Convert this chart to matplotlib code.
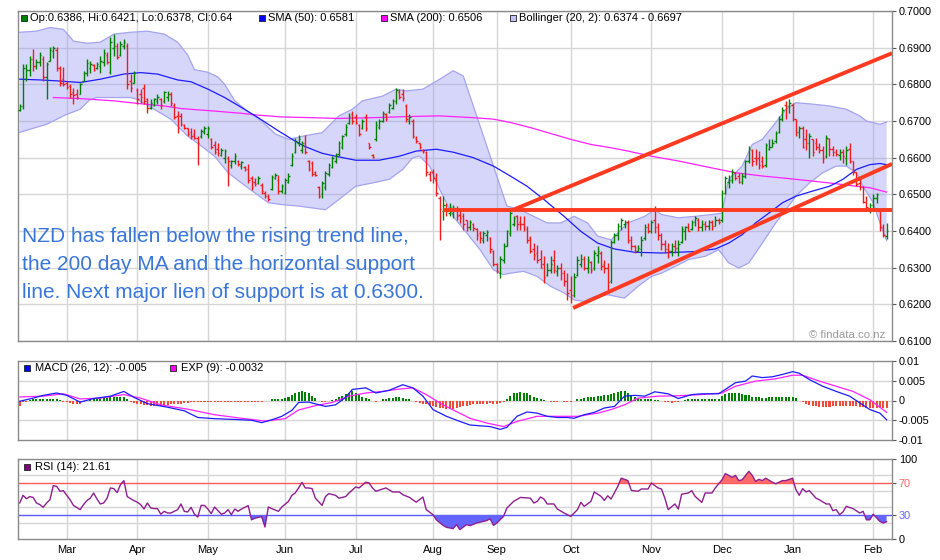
import numpy as np
import matplotlib
matplotlib.use("Agg")
import matplotlib.pyplot as plt
from matplotlib.collections import LineCollection
from matplotlib.patches import Rectangle

plt.rcParams["font.family"] = ["Liberation Sans", "DejaVu Sans"]

# ---- daily NZD/USD bars (prices in pips, 1 pip = 0.0001) ----
opens = [
    6730, 6742, 6815, 6840, 6868, 6850, 6862, 6870, 6820, 6864,
    6890, 6895, 6845, 6815, 6805, 6795, 6780, 6775, 6775, 6810,
    6830, 6845, 6852, 6845, 6850, 6860, 6880, 6835, 6900, 6905,
    6880, 6905, 6905, 6810, 6805, 6785, 6775, 6790, 6760, 6735,
    6745, 6755, 6760, 6755, 6765, 6775, 6745, 6715, 6715, 6690,
    6680, 6670, 6665, 6655, 6660, 6670, 6665, 6650, 6635, 6625,
    6608, 6600, 6600, 6580, 6590, 6592, 6578, 6575, 6570, 6545,
    6535, 6530, 6525, 6505, 6495, 6515, 6545, 6540, 6510, 6505,
    6535, 6580, 6615, 6640, 6620, 6640, 6590, 6585, 6560, 6520,
    6500, 6520, 6555, 6575, 6590, 6610, 6630, 6665, 6695, 6720,
    6710, 6690, 6680, 6710, 6640, 6608, 6650, 6685, 6700, 6720,
    6725, 6735, 6755, 6780, 6775, 6740, 6700, 6700, 6655, 6640,
    6622, 6615, 6555, 6560, 6540, 6490, 6455, 6470, 6450, 6450,
    6460, 6445, 6440, 6430, 6410, 6420, 6405, 6395, 6375, 6390,
    6380, 6345, 6310, 6285, 6320, 6360, 6395, 6420, 6440, 6425,
    6420, 6405, 6380, 6350, 6340, 6325, 6310, 6280, 6295, 6320,
    6290, 6300, 6285, 6265, 6240, 6225, 6280, 6310, 6325, 6300,
    6315, 6300, 6335, 6340, 6310, 6300, 6265, 6370, 6390, 6415,
    6420, 6425, 6375, 6360, 6345, 6350, 6380, 6410, 6400, 6430,
    6410, 6390, 6365, 6350, 6345, 6360, 6355, 6370, 6400, 6410,
    6405, 6425, 6430, 6410, 6420, 6415, 6425, 6415, 6430, 6430,
    6505, 6535, 6540, 6558, 6550, 6535, 6550, 6590, 6620, 6600,
    6600, 6590, 6580, 6625, 6630, 6645, 6670, 6705, 6745, 6740,
    6745, 6705, 6670, 6680, 6650, 6640, 6650, 6640, 6630, 6620,
    6605, 6650, 6625, 6615, 6608, 6615, 6600, 6625, 6590, 6560,
    6530, 6520, 6480, 6460, 6470, 6490, 6455, 6410, 6386,
]
highs = [
    6746, 6855, 6855, 6878, 6896, 6869, 6887, 6878, 6860, 6901,
    6905, 6901, 6850, 6846, 6809, 6800, 6791, 6787, 6805, 6837,
    6869, 6864, 6855, 6860, 6878, 6896, 6887, 6928, 6937, 6914,
    6919, 6923, 6914, 6828, 6837, 6791, 6787, 6800, 6764, 6759,
    6764, 6773, 6764, 6782, 6782, 6778, 6750, 6728, 6723, 6691,
    6682, 6682, 6677, 6659, 6677, 6686, 6686, 6654, 6645, 6641,
    6627, 6623, 6604, 6595, 6613, 6595, 6590, 6577, 6582, 6550,
    6545, 6550, 6531, 6509, 6500, 6554, 6559, 6554, 6527, 6545,
    6559, 6613, 6654, 6663, 6645, 6663, 6595, 6590, 6563, 6522,
    6536, 6563, 6586, 6604, 6613, 6645, 6663, 6691, 6723, 6728,
    6718, 6691, 6705, 6718, 6641, 6609, 6700, 6705, 6728, 6723,
    6750, 6759, 6791, 6787, 6787, 6746, 6718, 6705, 6659, 6641,
    6623, 6618, 6563, 6568, 6559, 6495, 6495, 6477, 6477, 6472,
    6468, 6458, 6449, 6431, 6431, 6422, 6408, 6400, 6399, 6404,
    6385, 6349, 6313, 6331, 6367, 6404, 6458, 6440, 6445, 6440,
    6440, 6413, 6386, 6367, 6363, 6349, 6331, 6313, 6331, 6349,
    6308, 6313, 6294, 6285, 6276, 6285, 6331, 6336, 6331, 6331,
    6318, 6349, 6358, 6345, 6322, 6313, 6376, 6395, 6422, 6436,
    6431, 6431, 6386, 6363, 6363, 6386, 6418, 6422, 6431, 6468,
    6422, 6395, 6376, 6367, 6367, 6376, 6376, 6413, 6413, 6422,
    6431, 6440, 6436, 6431, 6427, 6431, 6431, 6440, 6436, 6513,
    6550, 6554, 6568, 6560, 6558, 6558, 6595, 6632, 6623, 6623,
    6618, 6604, 6641, 6650, 6650, 6672, 6714, 6737, 6755, 6759,
    6750, 6705, 6686, 6686, 6677, 6668, 6650, 6655, 6640, 6632,
    6663, 6655, 6632, 6623, 6625, 6625, 6632, 6641, 6590, 6560,
    6550, 6523, 6495, 6477, 6500, 6504, 6460, 6420, 6421,
]
lows = [
    6728, 6732, 6809, 6823, 6837, 6841, 6850, 6809, 6759, 6864,
    6873, 6837, 6796, 6796, 6787, 6764, 6746, 6759, 6773, 6809,
    6823, 6832, 6837, 6841, 6832, 6850, 6855, 6828, 6878, 6869,
    6878, 6896, 6787, 6778, 6805, 6746, 6750, 6746, 6723, 6732,
    6741, 6746, 6732, 6750, 6755, 6741, 6705, 6668, 6686, 6677,
    6659, 6650, 6650, 6581, 6654, 6664, 6654, 6623, 6609, 6604,
    6604, 6586, 6522, 6572, 6582, 6577, 6568, 6563, 6531, 6513,
    6522, 6527, 6500, 6490, 6481, 6513, 6541, 6500, 6504, 6500,
    6531, 6577, 6613, 6632, 6613, 6610, 6563, 6550, 6550, 6490,
    6490, 6513, 6550, 6572, 6586, 6604, 6623, 6659, 6691, 6691,
    6691, 6659, 6677, 6673, 6623, 6600, 6645, 6677, 6696, 6700,
    6723, 6732, 6746, 6759, 6755, 6696, 6691, 6654, 6641, 6623,
    6613, 6550, 6536, 6531, 6495, 6376, 6431, 6440, 6440, 6436,
    6431, 6422, 6404, 6400, 6404, 6400, 6376, 6367, 6367, 6372,
    6340, 6304, 6285, 6272, 6313, 6358, 6386, 6413, 6404, 6404,
    6400, 6367, 6340, 6322, 6313, 6299, 6258, 6276, 6285, 6285,
    6276, 6267, 6249, 6212, 6203, 6221, 6276, 6303, 6294, 6285,
    6285, 6295, 6313, 6294, 6285, 6240, 6258, 6367, 6376, 6404,
    6408, 6367, 6349, 6340, 6345, 6331, 6376, 6395, 6395, 6395,
    6376, 6349, 6340, 6327, 6331, 6340, 6331, 6367, 6376, 6399,
    6404, 6413, 6399, 6399, 6404, 6404, 6404, 6413, 6418, 6425,
    6500, 6518, 6531, 6540, 6531, 6527, 6545, 6586, 6577, 6580,
    6568, 6572, 6575, 6622, 6630, 6640, 6668, 6700, 6705, 6723,
    6700, 6659, 6655, 6627, 6622, 6600, 6604, 6622, 6613, 6586,
    6600, 6604, 6604, 6604, 6595, 6586, 6581, 6586, 6554, 6522,
    6513, 6477, 6458, 6449, 6458, 6477, 6400, 6385, 6378,
]
closes = [
    6742, 6845, 6840, 6868, 6850, 6862, 6880, 6820, 6855, 6895,
    6900, 6845, 6805, 6800, 6792, 6775, 6770, 6765, 6800, 6832,
    6858, 6855, 6840, 6855, 6865, 6885, 6860, 6915, 6905, 6875,
    6910, 6915, 6800, 6790, 6830, 6760, 6765, 6755, 6735, 6750,
    6760, 6765, 6745, 6778, 6775, 6750, 6712, 6680, 6692, 6680,
    6665, 6660, 6655, 6640, 6672, 6680, 6682, 6630, 6615, 6612,
    6622, 6618, 6590, 6592, 6605, 6582, 6588, 6568, 6540, 6520,
    6528, 6545, 6508, 6495, 6488, 6548, 6552, 6510, 6522, 6538,
    6550, 6605, 6645, 6650, 6640, 6615, 6570, 6555, 6552, 6495,
    6530, 6558, 6580, 6598, 6608, 6640, 6658, 6685, 6715, 6700,
    6695, 6665, 6700, 6680, 6630, 6602, 6690, 6700, 6722, 6705,
    6745, 6755, 6785, 6765, 6762, 6705, 6710, 6660, 6645, 6628,
    6618, 6560, 6540, 6545, 6505, 6460, 6470, 6455, 6465, 6462,
    6440, 6435, 6420, 6410, 6425, 6408, 6390, 6380, 6395, 6398,
    6350, 6310, 6290, 6325, 6360, 6400, 6450, 6435, 6420, 6418,
    6410, 6375, 6345, 6335, 6320, 6300, 6275, 6295, 6310, 6295,
    6300, 6285, 6265, 6230, 6225, 6275, 6320, 6325, 6300, 6320,
    6295, 6340, 6345, 6305, 6300, 6260, 6370, 6390, 6415, 6430,
    6425, 6375, 6360, 6345, 6355, 6375, 6410, 6400, 6425, 6410,
    6390, 6365, 6350, 6345, 6360, 6355, 6365, 6405, 6410, 6400,
    6425, 6435, 6410, 6420, 6415, 6425, 6415, 6430, 6425, 6505,
    6545, 6540, 6560, 6545, 6535, 6550, 6590, 6625, 6590, 6595,
    6580, 6578, 6635, 6630, 6640, 6668, 6705, 6730, 6740, 6750,
    6705, 6670, 6680, 6630, 6640, 6660, 6615, 6630, 6620, 6600,
    6655, 6625, 6615, 6610, 6615, 6605, 6620, 6590, 6560, 6528,
    6520, 6480, 6465, 6470, 6490, 6500, 6410, 6390, 6400,
]

# ---- overlays (bar index, pips) ----
sma50_x = [0, 6, 12, 18, 24, 31, 36, 41, 47, 51, 56, 61, 66, 71, 77, 82, 85, 90, 94, 100,
           107, 113, 118, 124, 129, 135, 141, 146, 151, 156, 162, 167, 172, 177, 183, 191,
           201, 207, 211, 215, 219, 223, 227, 231, 236, 241, 245, 249, 253, 256, 258]
sma50_v = [6814, 6812, 6809, 6805, 6814, 6828, 6832, 6828, 6812, 6807, 6787, 6764, 6737, 6709,
           6673, 6645, 6630, 6612, 6604, 6593, 6593, 6604, 6618, 6623, 6615, 6600, 6577, 6550,
           6522, 6486, 6440, 6399, 6367, 6351, 6342, 6340, 6344, 6351, 6367, 6390, 6422, 6449,
           6477, 6495, 6509, 6522, 6541, 6568, 6581, 6584, 6581]
sma200_x = [10, 18, 28, 36, 43, 48, 58, 66, 71, 78, 87, 95, 105, 115, 125, 135, 141, 146, 152,
            158, 164, 170, 176, 181, 188, 196, 206, 213, 221, 231, 241, 249, 253, 258]
sma200_v = [6764, 6761, 6755, 6747, 6741, 6734, 6727, 6721, 6716, 6711, 6709, 6707, 6709, 6712,
            6714, 6709, 6705, 6696, 6682, 6666, 6650, 6636, 6627, 6618, 6604, 6591, 6572, 6559,
            6550, 6541, 6531, 6522, 6518, 6506]
bb_up_x = [0, 5, 9, 13, 16, 20, 24, 28, 33, 38, 43, 47, 50, 52, 56, 59, 61, 64, 68, 72,
           76, 80, 85, 90, 95, 99, 102, 108, 112, 115, 120, 125, 129, 132, 134, 136, 139, 141,
           143, 145, 149, 153, 157, 161, 165, 169, 172, 176, 181, 186, 189, 191, 196, 201, 206,
           209, 211, 215, 218, 221, 225, 228, 231, 236, 241, 246, 250, 252, 256, 258]
bb_up_v = [6942, 6945, 6955, 6950, 6918, 6912, 6915, 6937, 6942, 6945, 6937, 6915, 6880, 6840,
           6833, 6820, 6800, 6755, 6725, 6700, 6665, 6650, 6660, 6668, 6714, 6732, 6755, 6768,
           6787, 6782, 6787, 6814, 6837, 6823, 6768, 6714, 6632, 6577, 6522, 6468, 6458, 6440,
           6422, 6422, 6440, 6422, 6386, 6376, 6422, 6440, 6458, 6445, 6436, 6440, 6445, 6449,
           6541, 6577, 6636, 6650, 6696, 6732, 6750, 6746, 6741, 6732, 6714, 6700, 6691, 6697]
bb_lo_x = [0, 8, 14, 18, 21, 23, 33, 35, 40, 45, 50, 54, 58, 62, 66, 70, 74, 78, 83, 87,
           91, 95, 100, 105, 110, 114, 117, 119, 122, 125, 129, 133, 137, 141, 144, 146, 150,
           154, 158, 162, 165, 168, 171, 175, 180, 184, 188, 191, 195, 199, 204, 208, 211, 214,
           217, 221, 225, 228, 231, 235, 239, 243, 246, 249, 251, 254, 256, 258]
bb_lo_v = [6669, 6691, 6718, 6732, 6759, 6764, 6764, 6759, 6732, 6705, 6659, 6632, 6604, 6559,
           6531, 6504, 6477, 6472, 6468, 6463, 6458, 6486, 6522, 6531, 6541, 6568, 6600, 6604,
           6577, 6513, 6440, 6395, 6349, 6294, 6281, 6285, 6290, 6276, 6249, 6231, 6212, 6208,
           6221, 6226, 6217, 6249, 6276, 6285, 6303, 6322, 6331, 6349, 6313, 6299, 6313, 6367,
           6422, 6458, 6495, 6531, 6559, 6577, 6577, 6559, 6522, 6477, 6422, 6374]

# hand-drawn lines: support level, rising channel top and bottom
support_pips = 6456
support_from = 126
chan_top_x = [146.4, 259.6]
chan_top_v = [6456, 6885]
chan_bot_x = [164.7, 259.6]
chan_bot_v = [6190, 6583]

# ---- MACD (units of 0.001) and histogram (units of 0.0001) ----
macd_x = [0, 4, 7, 11, 14, 18, 22, 27, 31, 34, 38, 44, 49, 53, 58, 64, 69, 72, 75, 78,
          81, 83, 86, 91, 94, 97, 99, 103, 106, 110, 114, 117, 120, 123, 127, 131, 134, 137,
          140, 143, 145, 148, 151, 154, 157, 160, 163, 165, 168, 171, 174, 177, 180, 183, 186,
          189, 193, 196, 200, 203, 208, 210, 213, 216, 218, 221, 224, 227, 230, 232, 235, 239,
          243, 247, 250, 253, 256, 258]
macd_v = [-0.2, 0.6, 1.3, 1.9, 1.3, -0.4, 0.5, 1.1, 2.3, 0.8, -0.8, -1.7, -2.6, -4.3, -4.6,
          -4.8, -5.0, -5.6, -4.9, -4.0, -2.5, -0.5, -0.4, -1.5, -1.1, 0.8, 2.8, 3.2, 1.9, 2.6,
          4.0, 3.2, 1.1, -2.3, -4.0, -5.3, -6.2, -6.4, -6.6, -7.3, -6.8, -4.0, -2.9, -3.2,
          -4.0, -4.3, -4.3, -4.5, -3.6, -3.0, -1.9, -1.5, 1.1, 1.3, 1.1, 2.2, 1.7, 0.5, 1.5,
          1.7, 1.7, 2.8, 4.5, 4.9, 6.2, 5.8, 6.0, 6.6, 7.3, 6.9, 5.3, 3.6, 2.3, 1.1, -0.6,
          -2.3, -3.2, -4.9]
exp_x = [0, 7, 13, 18, 24, 31, 36, 42, 50, 58, 66, 73, 79, 83, 88, 93, 98, 103, 108, 113,
         117, 121, 126, 134, 139, 144, 148, 154, 160, 166, 172, 176, 180, 184, 190, 196, 203,
         209, 213, 219, 225, 230, 233, 238, 243, 248, 253, 258]
exp_v = [0.9, 1.1, 1.7, 0.4, 0.6, 1.5, 0.6, -1.1, -2.2, -3.6, -4.5, -5.2, -4.6, -2.4, -1.3,
         -0.5, 1.1, 1.9, 2.3, 2.9, 3.2, 1.5, -1.1, -4.5, -5.7, -6.6, -5.3, -4.0, -4.0, -4.0,
         -3.2, -2.3, -1.1, 0.6, 1.1, 1.2, 1.5, 1.9, 3.6, 4.9, 5.5, 6.4, 6.4, 4.9, 3.6, 2.3,
         0.2, -3.0]
hist = [
    -15, -5, -3, 2, 3, 4, 4, 5, 5, 5,
    5, 4, 2, -3, -4, -6, -8, -10, -8, -5,
    -2, 3, 5, 5, 6, 6, 7, 8, 9, 9,
    10, 9, 5, -4, -7, -9, -10, -11, -12, -13,
    -14, -15, -14, -13, -12, -10, -9, -8, -8, -7,
    -6, -5, -5, -4, -4, -4, -4, -4, -3, -3,
    -4, -4, -4, -3, -3, -3, -3, -3, -4, -4,
    -4, -3, -3, -2, 0, 3, 3, 4, 4, 7,
    10, 14, 18, 22, 23, 22, 18, 12, 6, -2,
    -3, -3, -2, 2, 5, 9, 12, 16, 20, 23,
    20, 14, 10, 6, 3, -2, -3, -1, 3, 4,
    6, 7, 8, 8, 7, 5, 3, -2, -4, -6,
    -8, -10, -12, -14, -16, -18, -20, -21, -22, -21,
    -19, -17, -15, -13, -11, -10, -9, -9, -8, -8,
    -7, -8, -8, -6, -3, 4, 12, 18, 20, 21,
    20, 18, 14, 10, 7, 4, 2, -2, -3, -3,
    -3, -2, -3, -3, -3, -2, 3, 5, 7, 8,
    9, 10, 11, 12, 13, 15, 17, 20, 22, 24,
    23, 19, 14, 10, 7, 5, 4, 3, 3, 2,
    1, 0, -4, -5, -6, -5, -3, 0, 1, 4,
    4, 4, 4, 4, 4, 4, 4, 4, 4, 12,
    16, 18, 18, 19, 18, 17, 15, 13, 10, 9,
    8, 7, 7, 8, 8, 9, 9, 10, 9, 10,
    9, 6, 0, -4, -8, -12, -14, -15, -16, -16,
    -16, -16, -15, -14, -14, -14, -14, -14, -13, -15,
    -16, -17, -18, -19, -20, -20, -20, -20, -18,
]

# ---- RSI(14) ----
rsi_x = [0, 1, 2, 3, 4, 5, 6, 7, 8, 9, 10, 11, 12, 13, 15, 16, 18, 19, 20, 21, 22, 23, 24,
         25, 26, 27, 28, 29, 30, 31, 32, 34, 35, 36, 37, 38, 39, 40, 41, 42, 43, 44, 45, 47,
         48, 49, 50, 51, 52, 53, 54, 55, 56, 57, 58, 60, 61, 62, 63, 64, 65, 66, 68, 69, 70,
         72, 73, 74, 75, 77, 78, 80, 81, 82, 83, 84, 85, 86, 87, 88, 90, 91, 92, 94, 95, 97,
         98, 100, 101, 103, 104, 105, 106, 108, 109, 111, 113, 114, 116, 118, 120, 121, 123,
         124, 126, 127, 129, 130, 131, 133, 134, 136, 137, 139, 140, 141, 142, 144, 145, 147,
         149, 152, 153, 154, 155, 156, 157, 159, 160, 162, 164, 166, 167, 168, 170, 171, 173,
         174, 175, 176, 178, 179, 181, 182, 184, 185, 187, 188, 190, 191, 192, 193, 195, 196,
         197, 199, 200, 201, 203, 204, 206, 207, 209, 210, 211, 212, 213, 214, 215, 217, 218,
         219, 220, 221, 222, 224, 225, 227, 228, 230, 231, 232, 233, 234, 235, 237, 238, 240,
         241, 242, 243, 244, 245, 246, 248, 250, 251, 252, 253, 254, 256, 257, 258]
rsi_v = [45, 54.6, 50.4, 53, 52, 45, 43, 39.6, 45, 49, 66.7, 65.8, 59.6, 60.4, 49, 42, 36.7,
         43, 48, 51, 57.5, 50, 43.8, 45, 51, 63.8, 63, 58, 68, 73, 53, 48, 46, 43, 37.5, 45,
         38.8, 38, 38, 31, 34.6, 32.5, 32.5, 36.7, 43.8, 34.6, 33.8, 39.6, 31, 27.5, 42, 42,
         37.5, 31.7, 40, 31, 32.5, 36.7, 30.4, 37.5, 34.6, 37.5, 41.7, 24, 26, 28, 15, 40, 38,
         34.6, 40, 47, 54.6, 57.5, 63.8, 70.8, 63.8, 63.8, 63, 51, 42, 53, 56.7, 54.6, 51, 53,
         57.5, 65, 63.8, 71, 70, 63.8, 59.6, 62.5, 63.8, 58.8, 58.8, 55.4, 52, 46, 52.5, 36.7,
         30.4, 24, 17, 14.6, 13, 18, 11.7, 18, 16.7, 20, 21, 23, 25.4, 17, 20, 28.3, 38.8, 47,
         52, 51, 45, 47, 52.5, 50, 43.8, 43.8, 37.5, 32.5, 28.3, 36.7, 45.8, 40.8, 47, 58.8,
         53.3, 48.3, 54, 50, 65.8, 76, 73, 60.8, 59.6, 62.5, 62.5, 70, 63.8, 62.5, 51, 36.7,
         43.8, 37.5, 56, 57.5, 60.4, 53.3, 45.8, 57.5, 57.5, 63.8, 74, 81.7, 79.6, 77, 79.6,
         73, 74, 84.6, 79.6, 72, 74.6, 73, 76, 71, 69, 73, 73, 76, 61.7, 54.6, 63, 58.8, 60.4,
         51, 49, 43.8, 43.8, 35.4, 36.7, 30.4, 33.8, 40.8, 38, 32.5, 34.6, 24, 24, 31, 22, 20,
         21.6]

months = ["Mar", "Apr", "May", "Jun", "Jul", "Aug", "Sep", "Oct", "Nov", "Dec", "Jan", "Feb"]
month_bar = [14, 35, 56, 79, 100, 123, 142, 164, 188, 209, 230, 254]

GREEN = "#008000"
RED = "#ee1c1c"
GRID = "#d6d6d6"
W, H = 940, 560


def fx(px):
    return px / W


def fy(py):
    return 1 - py / H


def box(top, bottom):
    return [fx(18), fy(bottom), 874 / W, (bottom - top) / H]


def key(px, py, color, size=6):
    fig.add_artist(Rectangle((fx(px), fy(py + size / 2)), size / W, size / H,
                             transform=fig.transFigure, facecolor=color,
                             edgecolor="#202020", lw=0.6))


fig = plt.figure(figsize=(W / 100, H / 100), dpi=100)
ax = fig.add_axes(box(11, 341))
ax_m = fig.add_axes(box(361, 440), sharex=ax)
ax_r = fig.add_axes(box(459, 539), sharex=ax)

for a in (ax, ax_m, ax_r):
    for s in a.spines.values():
        s.set_color("#8a8a8a")
        s.set_linewidth(1.0)
    a.yaxis.tick_right()
    a.tick_params(axis="y", direction="out", length=3, width=0.8, color="#555555",
                  labelsize=7.8, pad=2)
    a.tick_params(axis="x", length=0)
    for m in month_bar:
        a.axvline(m, color=GRID, lw=1.0, zorder=0.5)

ax.set_xlim(-0.5, 259.6)

# ---- price panel ----
n = len(closes)
o, hi, lo, cl = (np.array(v) / 1e4 for v in (opens, highs, lows, closes))
for v in np.arange(0.61, 0.7001, 0.01):
    ax.axhline(v, color=GRID, lw=1.0, zorder=0.5)

bx = np.r_[bb_up_x, bb_lo_x[::-1]]
by = np.r_[bb_up_v, bb_lo_v[::-1]] / 1e4
ax.fill(bx, by, facecolor="#8c8cf2", alpha=0.35, edgecolor="none", zorder=1)
ax.plot(bb_up_x, np.array(bb_up_v) / 1e4, color="#a4a4ee", lw=0.9, zorder=1.2)
ax.plot(bb_lo_x, np.array(bb_lo_v) / 1e4, color="#a4a4ee", lw=0.9, zorder=1.2)
ax.plot(sma200_x, np.array(sma200_v) / 1e4, color="#ff20ff", lw=0.9, zorder=2)
ax.plot(sma50_x, np.array(sma50_v) / 1e4, color="#1c1cff", lw=0.9, zorder=2)

segs, cols = [], []
for i in range(n):
    col = GREEN if cl[i] >= o[i] else RED
    segs += [[(i, lo[i]), (i, hi[i])],
             [(i - 0.45, o[i]), (i, o[i])],
             [(i, cl[i]), (i + 0.45, cl[i])]]
    cols += [col] * 3
ax.add_collection(LineCollection(segs, colors=cols, linewidths=1.0, zorder=3))

tl = dict(color="#ff3a20", lw=2.8, solid_capstyle="butt", zorder=4)
ax.plot([support_from, 259.6], [support_pips / 1e4] * 2, **tl)
ax.plot(chan_top_x, np.array(chan_top_v) / 1e4, **tl)
ax.plot(chan_bot_x, np.array(chan_bot_v) / 1e4, **tl)

ax.set_ylim(0.61, 0.70)
ax.set_yticks(np.arange(0.61, 0.7001, 0.01))
ax.set_yticklabels([f"{v:.4f}" for v in np.arange(0.61, 0.7001, 0.01)])
ax.tick_params(axis="x", labelbottom=False)

note = ["NZD has fallen below the rising trend line,",
        "the 200 day MA and the horizontal support",
        "line. Next major lien of support is at 0.6300."]
for k, line in enumerate(note):
    fig.text(fx(22), fy(237 + 28 * k), line, fontsize=15, color="#3a76d8",
             ha="left", va="center")
fig.text(fx(885), fy(335), "\u00a9 findata.co.nz", fontsize=8.2, color="#9a9a9a",
         ha="right", va="center")

legend = [(21, GREEN, "Op:0.6386, Hi:0.6421, Lo:0.6378, Cl:0.64"),
          (259, "#0000ff", "SMA (50): 0.6581"),
          (381, "#ff00ff", "SMA (200): 0.6506"),
          (510, "#c4c4f6", "Bollinger (20, 2): 0.6374 - 0.6697")]
for px, colr, txt in legend:
    key(px, 18, colr)
    fig.text(fx(px + 9), fy(18), txt, fontsize=8, ha="left", va="center")

# ---- MACD panel ----
for v in (-0.005, 0, 0.005):
    ax_m.axhline(v, color=GRID, lw=1.0, zorder=0.5)
hv = np.array(hist) / 1e4
ax_m.bar(np.arange(len(hv)), hv, width=0.6,
         color=[GREEN if v > 0 else "#f04a3a" for v in hv], zorder=1)
ax_m.plot(exp_x, np.array(exp_v) / 1e3, color="#ff20ff", lw=0.9, zorder=2)
ax_m.plot(macd_x, np.array(macd_v) / 1e3, color="#1c1cff", lw=0.9, zorder=2.1)
ax_m.set_ylim(-0.01, 0.01)
ax_m.set_yticks([0.01, 0.005, 0, -0.005, -0.01])
ax_m.set_yticklabels(["0.01", "0.005", "0", "-0.005", "-0.01"])
ax_m.tick_params(axis="x", labelbottom=False)
key(24, 368, "#0000ff")
fig.text(fx(35), fy(368), "MACD (26, 12): -0.005", fontsize=8, ha="left", va="center")
key(170, 368, "#ff00ff")
fig.text(fx(181), fy(368), "EXP (9): -0.0032", fontsize=8, ha="left", va="center")

# ---- RSI panel ----
for v in (20, 40, 60, 80):
    ax_r.axhline(v, color=GRID, lw=1.0, zorder=0.5)
ax_r.axhline(70, color="#ff5a5a", lw=1.0, zorder=0.8)
ax_r.axhline(30, color="#5a5aff", lw=1.0, zorder=0.8)
rx = np.array(rsi_x)
rv = np.array(rsi_v)
ax_r.fill_between(rx, rv, 70, where=rv >= 70, interpolate=True, color="#ff6b6b",
                  lw=0, zorder=1)
ax_r.fill_between(rx, rv, 30, where=rv <= 30, interpolate=True, color="#6464ff",
                  lw=0, zorder=1)
ax_r.plot(rx, rv, color="#8e1f8e", lw=1.0, zorder=2)
ax_r.set_ylim(0, 100)
ax_r.set_yticks([0, 30, 70, 100])
ax_r.set_yticklabels(["0", "30", "70", "100"])
ylab = ax_r.get_yticklabels()
ylab[1].set_color("#6464ff")
ylab[2].set_color("#ff6464")
ax_r.set_xticks(month_bar)
ax_r.set_xticklabels(months)
ax_r.tick_params(axis="x", labelsize=8, pad=4)
key(24, 467, "#800080")
fig.text(fx(35), fy(467), "RSI (14): 21.61", fontsize=8, ha="left", va="center")

fig.savefig("out.png", dpi=100)
